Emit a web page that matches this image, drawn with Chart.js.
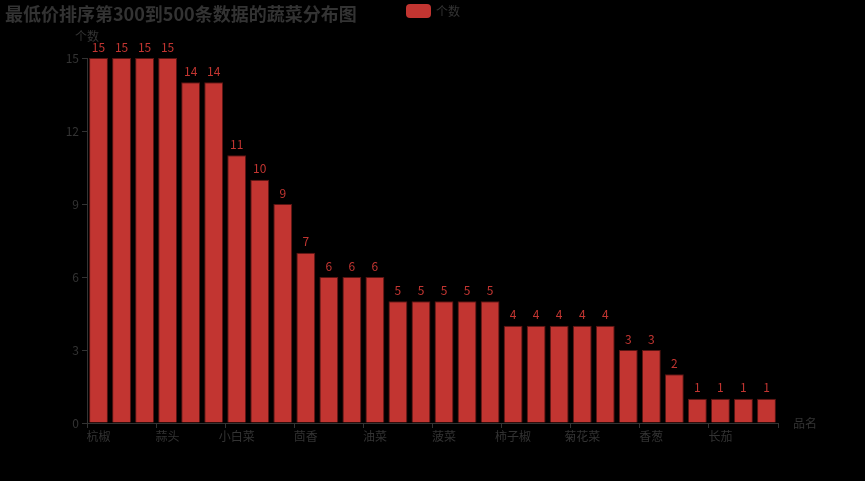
<!DOCTYPE html>
<html>
<head>
<meta charset="utf-8">
<script src="https://cdn.jsdelivr.net/npm/chart.js@4/dist/chart.umd.min.js"></script>
<style>
  html, body { margin: 0; padding: 0; background: #000; }
  #wrap { width: 865px; height: 481px; position: relative; }
</style>
</head>
<body>
<div id="wrap"><canvas id="c" width="865" height="481"></canvas></div>
<script>
const titleText = '最低价排序第300到500条数据的蔬菜分布图';
const seriesName = '个数';
const xAxisName = '品名';
const yAxisName = '个数';
const categories = ['杭椒','芹菜','韭菜','蒜头','生菜','土豆','小白菜','油麦菜','西兰花','茴香','冬瓜','青椒','油菜','大白菜','茄子','菠菜','黄瓜','苦瓜','柿子椒','南瓜','洋葱','菊花菜','莴笋','山药','香葱','豆角','西红柿','长茄','菜花','芥蓝'];
const counts = [15,15,15,15,14,14,11,10,9,7,6,6,6,5,5,5,5,5,4,4,4,4,4,3,3,2,1,1,1,1];
const yTicks = [0,3,6,9,12,15];

const FONT = '"Noto Sans CJK SC", "Noto Sans", sans-serif';
const TEXT = '#333';
const RED = '#c23531';

const bgPlugin = {
  id: 'bg',
  beforeDraw(chart) {
    const ctx = chart.ctx;
    ctx.save();
    ctx.fillStyle = '#000';
    ctx.fillRect(0, 0, chart.width, chart.height);
    ctx.restore();
  }
};

const decoPlugin = {
  id: 'deco',
  afterDraw(chart) {
    const ctx = chart.ctx;
    const area = chart.chartArea;
    ctx.save();
    // title
    ctx.fillStyle = TEXT;
    ctx.font = 'bold 18px ' + FONT;
    ctx.textBaseline = 'middle';
    ctx.textAlign = 'left';
    ctx.fillText(titleText, 5, 14);
    // legend
    const lx = 406, ly = 4, lw = 25, lh = 14;
    ctx.fillStyle = RED;
    ctx.beginPath();
    ctx.roundRect(lx, ly, lw, lh, 4);
    ctx.fill();
    ctx.fillStyle = TEXT;
    ctx.font = '12px ' + FONT;
    ctx.textBaseline = 'middle';
    ctx.fillText(seriesName, lx + lw + 5, ly + lh / 2);
    // axis names
    ctx.textAlign = 'center';
    ctx.textBaseline = 'middle';
    ctx.fillText(yAxisName, area.left, area.top - 22);
    ctx.textAlign = 'left';
    ctx.textBaseline = 'middle';
    ctx.fillText(xAxisName, area.right + 15, area.bottom);
    ctx.restore();
  },
  afterDatasetsDraw(chart) {
    const ctx = chart.ctx;
    const meta = chart.getDatasetMeta(0);
    ctx.save();
    ctx.fillStyle = RED;
    ctx.font = '12px ' + FONT;
    ctx.textAlign = 'center';
    ctx.textBaseline = 'bottom';
    meta.data.forEach((bar, i) => {
      ctx.fillText(String(counts[i]), bar.x, bar.y - 5);
    });
    ctx.restore();
  }
};

new Chart(document.getElementById('c'), {
  type: 'bar',
  data: {
    labels: categories,
    datasets: [{
      label: seriesName,
      data: counts,
      backgroundColor: RED,
      borderColor: 'rgba(150,35,32,0.6)',
      borderWidth: 1,
      categoryPercentage: 0.82,
      barPercentage: 1.0
    }]
  },
  options: {
    responsive: false,
    animation: false,
    devicePixelRatio: 1,
    layout: { padding: { top: 58, right: 87, left: 0, bottom: 0 } },
    plugins: {
      legend: { display: false },
      title: { display: false },
      tooltip: { enabled: false }
    },
    scales: {
      x: {
        type: 'category',
        offset: true,
        afterFit(scale) { scale.height = 58; },
        border: { display: true, color: TEXT, width: 1 },
        grid: {
          offset: true,
          drawOnChartArea: false,
          drawTicks: true,
          tickLength: 5,
          color: (c) => (c.index === undefined || c.index % 3 === 0) ? TEXT : 'rgba(0,0,0,0)'
        },
        ticks: {
          autoSkip: false,
          maxRotation: 0,
          color: TEXT,
          font: { family: FONT, size: 12 },
          padding: 1,
          callback: function(v, i) { return i % 3 === 0 ? categories[i] : ''; }
        }
      },
      y: {
        min: 0,
        max: 15,
        afterFit(scale) { scale.width = 87; },
        afterBuildTicks(scale) { scale.ticks = yTicks.map(v => ({ value: v })); },
        border: { display: true, color: TEXT, width: 1 },
        grid: {
          drawOnChartArea: false,
          drawTicks: true,
          tickLength: 5,
          color: TEXT
        },
        ticks: {
          color: TEXT,
          font: { family: FONT, size: 12 },
          padding: 3
        }
      }
    }
  },
  plugins: [bgPlugin, decoPlugin]
});
</script>
</body>
</html>
